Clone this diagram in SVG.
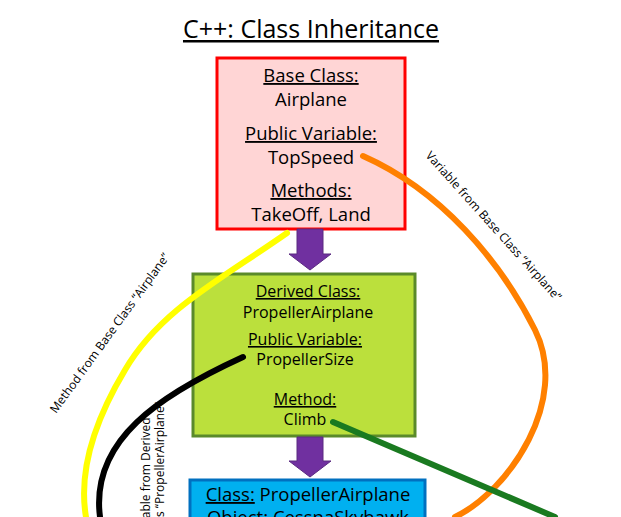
<svg xmlns="http://www.w3.org/2000/svg" width="621" height="517" viewBox="0 0 621 517">
<style>
text{font-family:"Open Sans","Liberation Sans",sans-serif;fill:#000}
.b{font-size:18.5px;text-anchor:middle}
.g{font-size:16px;text-anchor:middle}
.u{text-decoration:underline}
.s{font-size:12px}
.c{fill:none;stroke-width:6;stroke-linecap:round}
.arr{fill:#7030a0;stroke:#5a2a80;stroke-width:1}
</style>
<rect width="621" height="517" fill="#fff"/>
<text x="311" y="38" style="font-size:25px;text-anchor:middle" class="u">C++: Class Inheritance</text>
<g id="base">
<rect x="217" y="58" width="188" height="171" fill="#ffd5d5" stroke="#ff0000" stroke-width="3"/>
<text x="311" y="82" class="b u">Base Class:</text>
<text x="311" y="106" class="b">Airplane</text>
<text x="311" y="140" class="b u">Public Variable:</text>
<text x="311" y="164" class="b">TopSpeed</text>
<text x="311" y="197" class="b u">Methods:</text>
<text x="311" y="221" class="b">TakeOff, Land</text>
</g>
<g id="derived">
<rect x="193" y="274" width="222" height="162" fill="#bbe03c" stroke="#5a8a2a" stroke-width="3"/>
<text x="308" y="297" class="g u">Derived Class:</text>
<text x="308" y="318" class="g">PropellerAirplane</text>
<text x="305" y="345" class="g u">Public Variable:</text>
<text x="305" y="365" class="g">PropellerSize</text>
<text x="305" y="405" class="g u">Method:</text>
<text x="305" y="425" class="g">Climb</text>
</g>
<g id="object">
<rect x="190" y="480" width="235" height="45" fill="#00b0f0" stroke="#0070c0" stroke-width="3"/>
<text x="308" y="501" class="b"><tspan class="u">Class:</tspan> PropellerAirplane</text>
<text x="308" y="524" class="b"><tspan class="u">Object:</tspan> CessnaSkyhawk</text>
</g>
<g id="connectors">
<path class="c" stroke="#ffff00" d="M287,233 C220,280 160,310 125,370 C95,420 78,470 86,517"/>
<path class="c" stroke="#ff8000" d="M363,156 C440,190 500,260 535,330 C570,400 510,490 455,517"/>
<path class="c" stroke="#000" d="M243,357 C160,395 90,440 100,517"/>
<path class="c" stroke="#1a7a20" d="M333,422 L555,517"/>
<polygon class="arr" points="297,229 323,229 323,254 331,254 310,270 289,254 297,254"/>
<polygon class="arr" points="297,437 323,437 323,461 331,461 310,477 289,461 297,461"/>
</g>
<g id="labels">
<text class="s" transform="translate(56,414) rotate(-54)">Method from Base Class “Airplane”</text>
<text class="s" transform="translate(425,156) rotate(48)">Variable from Base Class “Airplane”</text>
<text class="s" transform="translate(150,540) rotate(-90)">Variable from Derived</text>
<text class="s" transform="translate(164,540) rotate(-90)">Class “PropellerAirplane”</text>
</g>
</svg>
